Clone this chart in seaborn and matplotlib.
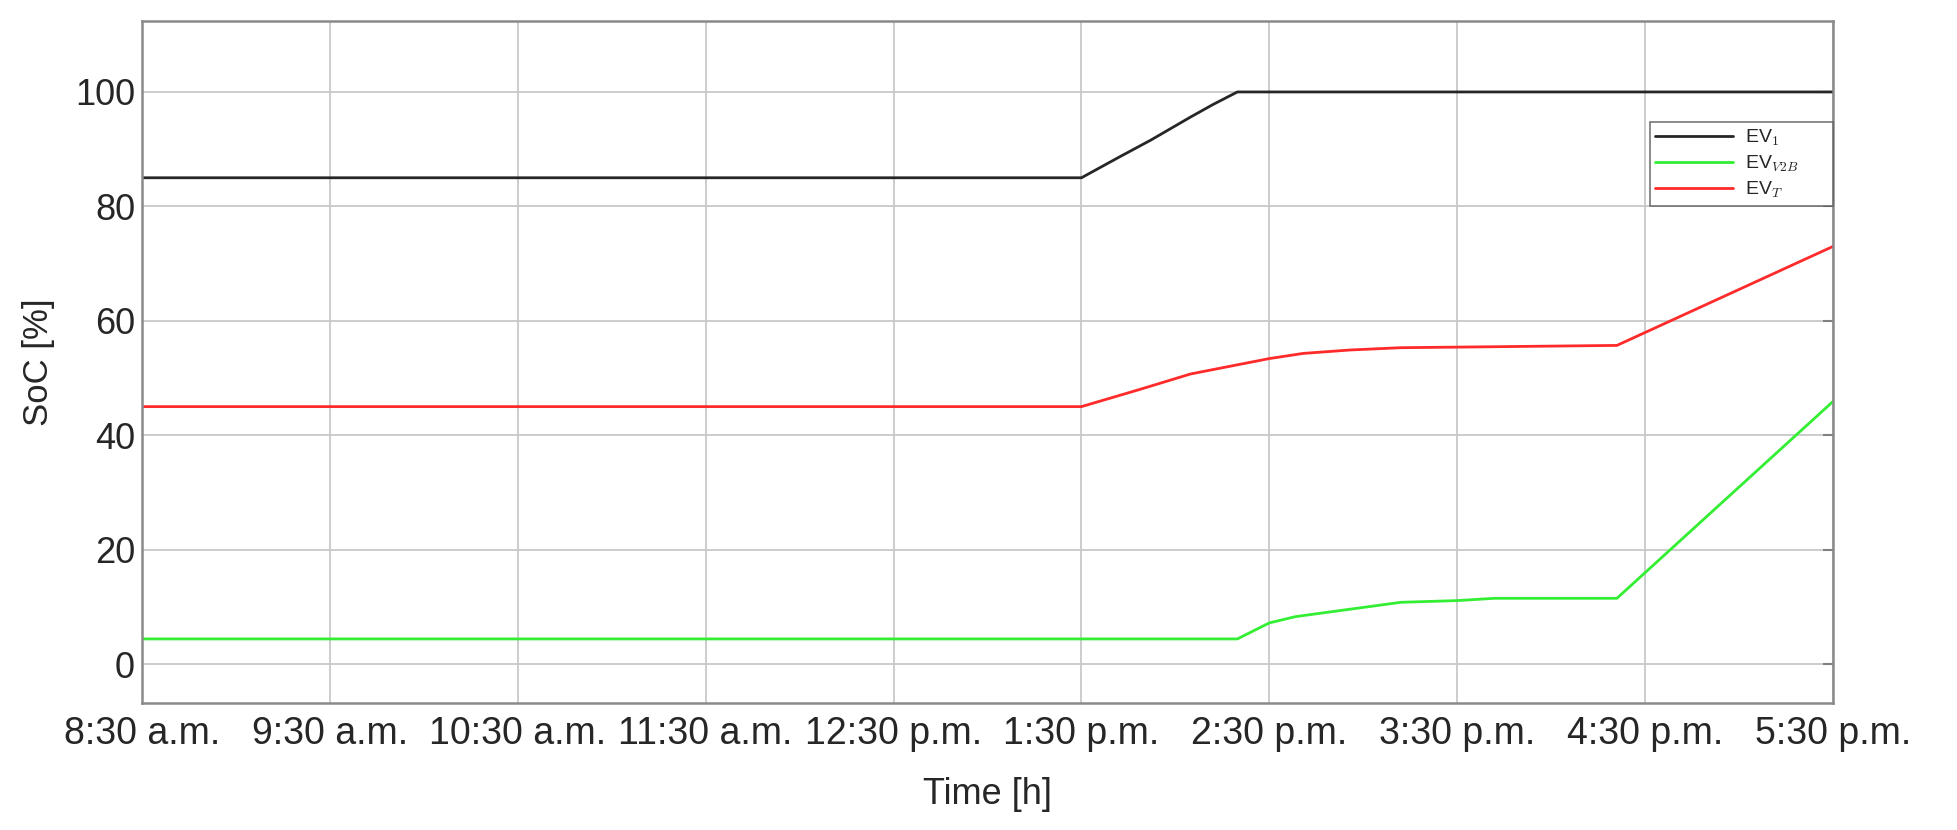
import numpy as np
import pandas as pd
import seaborn as sns
import matplotlib.pyplot as plt

# --- data (hours of day, SoC in %) ---
ev1_time = [8.5, 13.5, 13.7, 13.87, 14.08, 14.2, 14.33, 17.5]
ev1_soc = [85.0, 85.0, 88.6, 91.6, 95.6, 97.8, 100.0, 100.0]

v2b_time = [8.5, 14.33, 14.5, 14.64, 15.2, 15.5, 15.7, 16.35, 17.5]
v2b_soc = [4.4, 4.4, 7.2, 8.3, 10.8, 11.1, 11.5, 11.5, 45.9]

evt_time = [8.5, 13.5, 13.81, 14.08, 14.5, 14.68, 14.93, 15.2, 15.5, 16.35, 17.5]
evt_soc = [45.0, 45.0, 48.0, 50.7, 53.4, 54.3, 54.9, 55.3, 55.4, 55.7, 73.0]

tick_hours = [8.5, 9.5, 10.5, 11.5, 12.5, 13.5, 14.5, 15.5, 16.5, 17.5]
tick_labels = ['8:30 a.m.', '9:30 a.m.', '10:30 a.m.', '11:30 a.m.', '12:30 p.m.',
               '1:30 p.m.', '2:30 p.m.', '3:30 p.m.', '4:30 p.m.', '5:30 p.m.']

series = [
    ('EV$_1$', ev1_time, ev1_soc, '#262626'),
    ('EV$_{V2B}$', v2b_time, v2b_soc, '#33ee33'),
    ('EV$_T$', evt_time, evt_soc, '#ff2a2a'),
]

sns.set_style('white')
plt.rcParams['font.family'] = ['Liberation Sans', 'DejaVu Sans']
plt.rcParams['mathtext.fontset'] = 'cm'

fig, ax = plt.subplots(figsize=(19.57, 8.3), dpi=100)
fig.subplots_adjust(left=142 / 1957, right=1833 / 1957, top=1 - 21 / 830, bottom=1 - 703 / 830)

for name, t, s, c in series:
    df = pd.DataFrame({'time': t, 'soc': s})
    sns.lineplot(data=df, x='time', y='soc', ax=ax, color=c, linewidth=2.0, label=name)

ax.set_xlim(8.5, 17.5)
ax.set_ylim(-6.8, 112.4)
ax.set_xticks(tick_hours)
ax.set_xticklabels(tick_labels)
ax.set_yticks([0, 20, 40, 60, 80, 100])
ax.grid(True, color='#c8c8c8', linewidth=1.3)
ax.set_axisbelow(True)

ax.tick_params(axis='both', direction='in', length=7, width=1.5,
               color='#808080', right=True, top=False)
ax.tick_params(axis='x', labelsize=27, pad=9)
ax.tick_params(axis='y', labelsize=26, pad=5)
for sp in ax.spines.values():
    sp.set_color('#8a8a8a')
    sp.set_linewidth(1.8)

ax.set_xlabel('Time [h]', fontsize=26, labelpad=18)
ax.set_ylabel('SoC [%]', fontsize=25, labelpad=14)

leg = ax.legend(loc='upper right', bbox_to_anchor=(1.0, 0.852), fontsize=14,
                frameon=True, fancybox=False, handlelength=4.0, borderpad=0.3,
                labelspacing=0.3, handletextpad=0.6, borderaxespad=0)
leg.get_frame().set_edgecolor('#555555')
leg.get_frame().set_linewidth(1.2)
for t in leg.get_texts():
    t.set_text(t.get_text() + '      ')

plt.savefig('out.png', dpi=100)
